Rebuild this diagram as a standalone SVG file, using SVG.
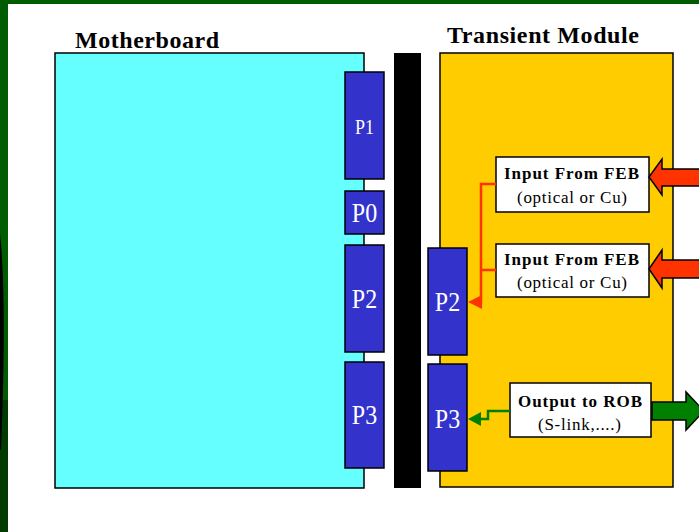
<svg xmlns="http://www.w3.org/2000/svg" width="699" height="532" viewBox="0 0 699 532">
<style>
.title{font-family:"Liberation Serif","Times New Roman",serif;font-weight:bold;font-size:24px;fill:#000}
.board{stroke:#000;stroke-width:1.5}
.pin{fill:#3333CC;stroke:#000;stroke-width:1.5}
.pinlbl{font-family:"Liberation Serif","Times New Roman",serif;fill:#fff;text-anchor:middle}
.box{fill:#fff;stroke:#000;stroke-width:1.5}
.b{font-family:"Liberation Serif","Times New Roman",serif;font-weight:bold;font-size:17px;fill:#000}
.r{font-family:"Liberation Serif","Times New Roman",serif;font-size:17px;fill:#000}
.blk{stroke:#000;stroke-width:1.5}
</style>
<rect width="699" height="532" fill="#fff"/>
<rect x="0" y="0" width="699" height="4" fill="#005c00"/>
<rect x="0" y="0" width="8" height="532" fill="#005c00"/>
<rect x="0" y="400" width="8" height="132" fill="#003c00"/>
<path d="M0,233 Q7,300 1,450 L0,450 Z" fill="#000"/>

<g id="motherboard">
<text class="title" x="75" y="48" textLength="144" lengthAdjust="spacing">Motherboard</text>
<rect class="board" x="55" y="53" width="309" height="435" fill="#66FFFF"/>
</g>
<g id="mb-p1"><rect class="pin" x="345" y="72" width="39" height="107"/><text class="pinlbl" transform="translate(364.5,134) scale(1,1.15)" font-size="18">P1</text></g>
<g id="mb-p0"><rect class="pin" x="345" y="191" width="39" height="43"/><text class="pinlbl" transform="translate(364.5,222) scale(1,1.15)" font-size="24">P0</text></g>
<g id="mb-p2"><rect class="pin" x="345" y="245" width="39" height="107"/><text class="pinlbl" transform="translate(364.5,308) scale(1,1.12)" font-size="24">P2</text></g>
<g id="mb-p3"><rect class="pin" x="345" y="362" width="39" height="106"/><text class="pinlbl" transform="translate(364.5,424) scale(1,1.12)" font-size="24">P3</text></g>

<g id="backplane"><rect x="394" y="53" width="27" height="435" fill="#000"/></g>

<g id="transient">
<text class="title" x="447" y="43" textLength="192" lengthAdjust="spacing">Transient Module</text>
<rect class="board" x="440" y="53" width="233" height="434" fill="#FFCC00"/>
</g>
<g id="tm-p2"><rect class="pin" x="428" y="248" width="39" height="107"/><text class="pinlbl" transform="translate(447.5,311) scale(1,1.12)" font-size="24">P2</text></g>
<g id="tm-p3"><rect class="pin" x="428" y="364" width="39" height="107"/><text class="pinlbl" transform="translate(447.5,428) scale(1,1.12)" font-size="24">P3</text></g>

<g id="input1">
<rect class="box" x="496" y="157" width="153" height="55"/>
<text class="b" x="504" y="179" textLength="135" lengthAdjust="spacing">Input From FEB</text>
<text class="r" x="517" y="203" textLength="110" lengthAdjust="spacing">(optical or Cu)</text>
</g>
<g id="input2">
<rect class="box" x="496" y="244" width="153" height="53"/>
<text class="b" x="504" y="265" textLength="135" lengthAdjust="spacing">Input From FEB</text>
<text class="r" x="517" y="288" textLength="110" lengthAdjust="spacing">(optical or Cu)</text>
</g>
<g id="output">
<rect class="box" x="510" y="383" width="141" height="54"/>
<text class="b" x="518" y="407" textLength="124" lengthAdjust="spacing">Output to ROB</text>
<text class="r" x="538" y="430" textLength="83" lengthAdjust="spacing">(S-link,....)</text>
</g>

<g id="connectors">
<path class="blk" d="M649,177 L662,159 L662,169 L705,169 L705,186 L662,186 L662,195 Z" fill="#FF3300"/>
<path class="blk" d="M649,269 L662,250 L662,260 L705,260 L705,278 L662,278 L662,288 Z" fill="#FF3300"/>
<path class="blk" d="M652,402 L686,402 L686,392 L704,411 L686,430 L686,420 L652,420 Z" fill="#008000"/>
<path d="M496,184 H481 V302 H478 M496,270 H481" fill="none" stroke="#FF3300" stroke-width="2.5"/>
<polygon points="468,302 482,295 482,309" fill="#FF3300"/>
<path d="M510,411 H488 V419 H478" fill="none" stroke="#008000" stroke-width="2.5"/>
<polygon points="468,419 481,412 481,426" fill="#008000"/>
</g>
</svg>
